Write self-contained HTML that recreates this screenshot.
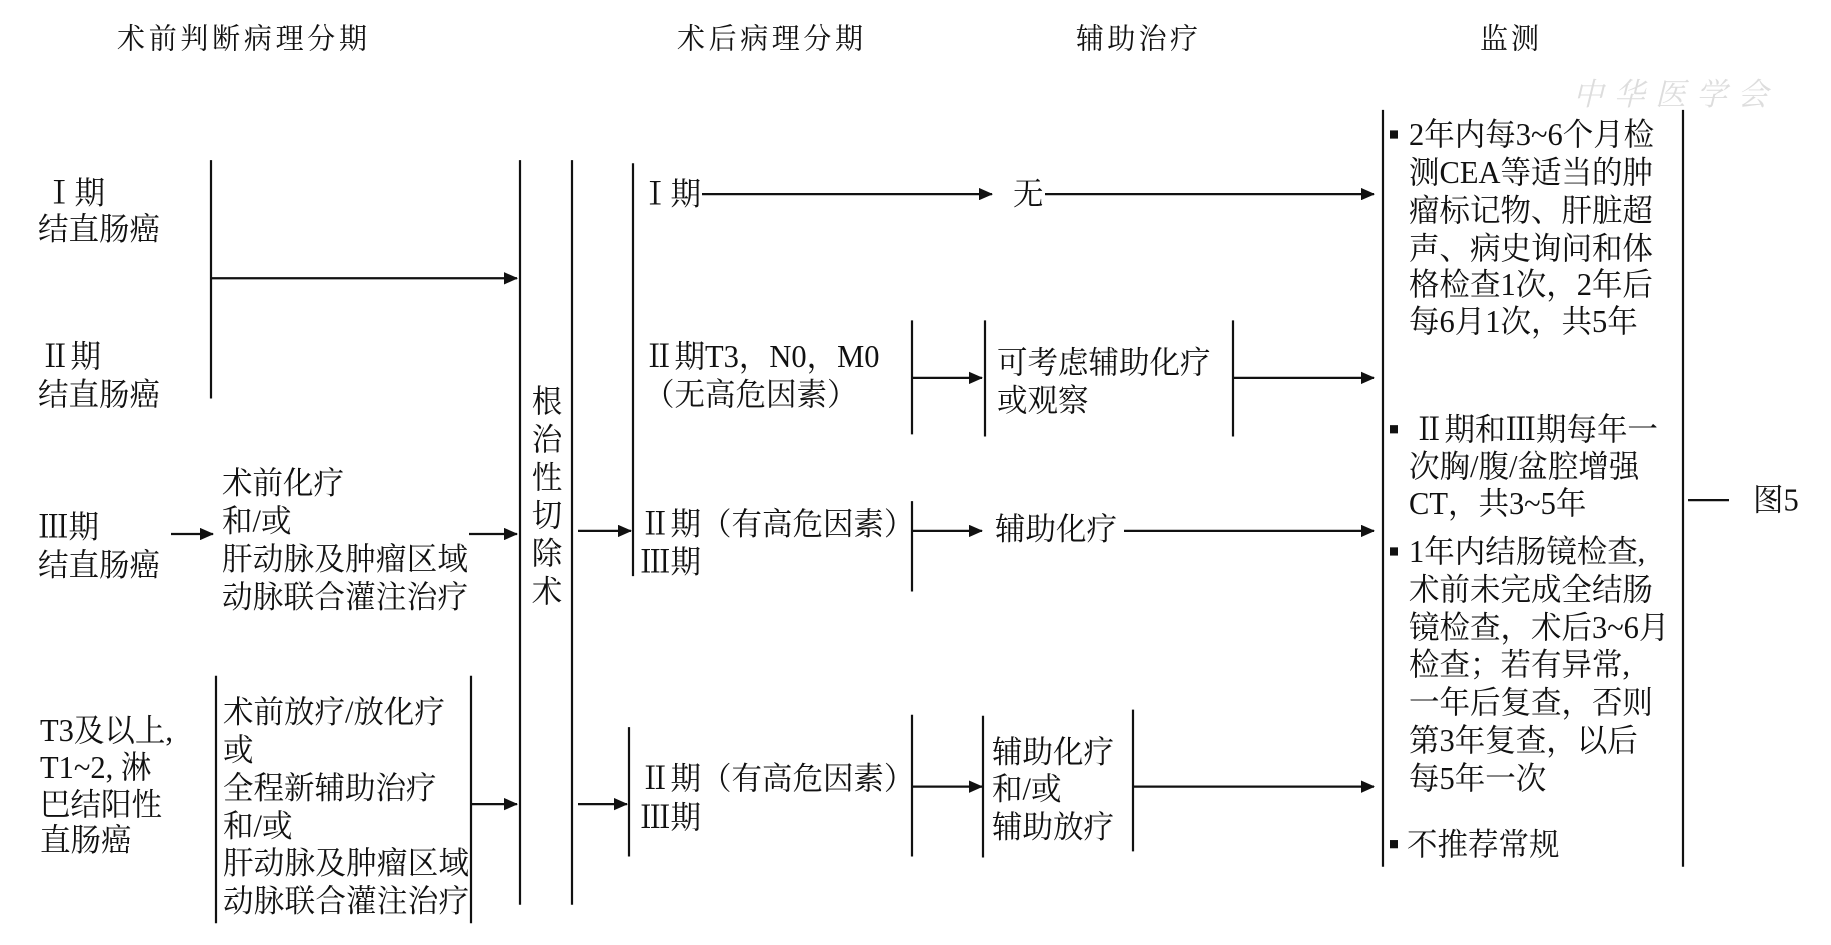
<!DOCTYPE html>
<html><head><meta charset="utf-8">
<style>
html,body{margin:0;padding:0;background:#fff;}
svg text{font-family:"Liberation Serif","Noto Serif CJK SC",serif;font-size:30.5px;fill:#111;dominant-baseline:central;}
.t{font-size:28px;}
</style></head>
<body>
<svg width="1831" height="940" xmlns="http://www.w3.org/2000/svg">
<defs>
<marker id="a" markerWidth="14" markerHeight="12" refX="13" refY="6" orient="auto" markerUnits="userSpaceOnUse">
<path d="M0,0 L14,6 L0,12 z" fill="#111"/></marker>
</defs>
<g transform="translate(0,1) scale(1,1.027)">
<g stroke="#111" stroke-width="2.2" fill="none">
<line x1="211" y1="155" x2="211" y2="387"/>
<line x1="211" y1="270" x2="517" y2="270" marker-end="url(#a)"/>
<line x1="171" y1="519" x2="213" y2="519" marker-end="url(#a)"/>
<line x1="469" y1="519" x2="517" y2="519" marker-end="url(#a)"/>
<line x1="216" y1="657" x2="216" y2="898"/>
<line x1="471" y1="657" x2="471" y2="898"/>
<line x1="471" y1="782" x2="517" y2="782" marker-end="url(#a)"/>
<line x1="520" y1="155" x2="520" y2="880"/>
<line x1="572" y1="155" x2="572" y2="880"/>
<line x1="633" y1="158" x2="633" y2="560"/>
<line x1="578" y1="516" x2="631" y2="516" marker-end="url(#a)"/>
<line x1="629" y1="707" x2="629" y2="833"/>
<line x1="578" y1="782" x2="627" y2="782" marker-end="url(#a)"/>
<line x1="702" y1="188" x2="992" y2="188" marker-end="url(#a)"/>
<line x1="1045" y1="188" x2="1374" y2="188" marker-end="url(#a)"/>
<line x1="912" y1="311" x2="912" y2="422"/>
<line x1="912" y1="367" x2="982" y2="367" marker-end="url(#a)"/>
<line x1="985" y1="311" x2="985" y2="424"/>
<line x1="1233" y1="311" x2="1233" y2="424"/>
<line x1="1233" y1="367" x2="1374" y2="367" marker-end="url(#a)"/>
<line x1="912" y1="487" x2="912" y2="575"/>
<line x1="912" y1="516" x2="982" y2="516" marker-end="url(#a)"/>
<line x1="1124" y1="516" x2="1374" y2="516" marker-end="url(#a)"/>
<line x1="912" y1="695" x2="912" y2="833"/>
<line x1="912" y1="765" x2="982" y2="765" marker-end="url(#a)"/>
<line x1="983" y1="696" x2="983" y2="834"/>
<line x1="1133" y1="690" x2="1133" y2="828"/>
<line x1="1133" y1="765" x2="1374" y2="765" marker-end="url(#a)"/>
<line x1="1383" y1="106" x2="1383" y2="843"/>
<line x1="1683" y1="106" x2="1683" y2="843"/>
<line x1="1688" y1="486" x2="1729" y2="486"/>
</g>
<g fill="#111">
<rect x="1390" y="126" width="8" height="8"/>
<rect x="1390" y="413" width="8" height="8"/>
<rect x="1390" y="532" width="8" height="8"/>
<rect x="1390" y="817" width="8" height="8"/>
</g>
<text class="t" x="117" y="38" textLength="250">术前判断病理分期</text>
<text class="t" x="677" y="38" textLength="186">术后病理分期</text>
<text class="t" x="1076" y="38" textLength="122">辅助治疗</text>
<text class="t" x="1480" y="38" textLength="59">监测</text>
<text x="1573" y="91" style="fill:#ddd;font-style:italic" textLength="195">中华医学会</text>

<text x="44" y="187">Ⅰ期</text>
<text x="38" y="222">结直肠癌</text>
<text x="40" y="346">Ⅱ期</text>
<text x="38" y="383">结直肠癌</text>
<text x="38" y="512">Ⅲ期</text>
<text x="38" y="549">结直肠癌</text>
<text x="222" y="469">术前化疗</text>
<text x="222" y="506">和/或</text>
<text x="222" y="543" textLength="246">肝动脉及肿瘤区域</text>
<text x="222" y="580" textLength="246">动脉联合灌注治疗</text>
<text x="40" y="710">T3及以上,</text>
<text x="40" y="746">T1~2, 淋</text>
<text x="40" y="782">巴结阳性</text>
<text x="40" y="817">直肠癌</text>
<text x="223" y="692">术前放疗/放化疗</text>
<text x="223" y="729">或</text>
<text x="223" y="766">全程新辅助治疗</text>
<text x="223" y="803">和/或</text>
<text x="223" y="839" textLength="246">肝动脉及肿瘤区域</text>
<text x="223" y="876" textLength="246">动脉联合灌注治疗</text>
<g text-anchor="middle">
<text x="547" y="390">根</text><text x="547" y="427">治</text><text x="547" y="464">性</text>
<text x="547" y="501">切</text><text x="547" y="538">除</text><text x="547" y="575">术</text>
</g>
<text x="640" y="188">Ⅰ期</text>
<text x="644" y="346">Ⅱ期T3，N0，M0</text>
<text x="644" y="383">（无高危因素）</text>
<text x="640" y="509">Ⅱ期（有高危因素）</text>
<text x="640" y="546">Ⅲ期</text>
<text x="640" y="757">Ⅱ期（有高危因素）</text>
<text x="640" y="795">Ⅲ期</text>
<text x="1013" y="188">无</text>
<text x="997" y="352">可考虑辅助化疗</text>
<text x="997" y="389">或观察</text>
<text x="995" y="514">辅助化疗</text>
<text x="992" y="731">辅助化疗</text>
<text x="992" y="767">和/或</text>
<text x="992" y="804">辅助放疗</text>
<text x="1409" y="130">2年内每3~6个月检</text>
<text x="1409" y="167">测CEA等适当的肿</text>
<text x="1409" y="204">瘤标记物、肝脏超</text>
<text x="1409" y="241">声、病史询问和体</text>
<text x="1409" y="276">格检查1次，2年后</text>
<text x="1409" y="312">每6月1次，共5年</text>
<text x="1414" y="417">Ⅱ期和Ⅲ期每年一</text>
<text x="1409" y="453">次胸/腹/盆腔增强</text>
<text x="1409" y="489">CT，共3~5年</text>
<text x="1409" y="536">1年内结肠镜检查,</text>
<text x="1409" y="573">术前未完成全结肠</text>
<text x="1409" y="610">镜检查，术后3~6月</text>
<text x="1409" y="646">检查；若有异常,</text>
<text x="1409" y="683">一年后复查，否则</text>
<text x="1409" y="720">第3年复查，以后</text>
<text x="1409" y="757">每5年一次</text>
<text x="1407" y="821">不推荐常规</text>
<text x="1753" y="486">图5</text>
</g>
</svg>
</body></html>
